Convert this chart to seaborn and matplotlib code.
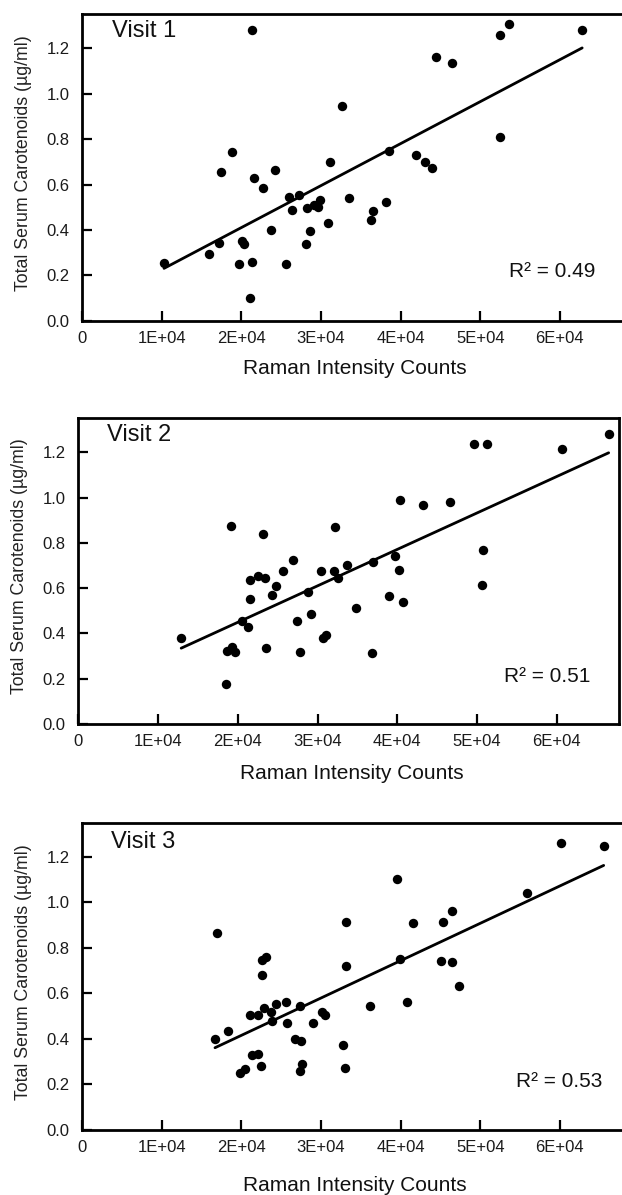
import matplotlib
matplotlib.use("Agg")
import matplotlib.pyplot as plt
import seaborn as sns
import numpy as np

# Visit 1
visit1_raman = [10300, 15900, 17200, 17500, 18800, 19700, 20100, 20300, 21100, 21400,
                21400, 21600, 22700, 23700, 24200, 25600, 26000, 26400, 27200, 28100,
                28200, 28600, 29100, 29600, 29900, 30900, 31200, 32700, 33500, 36300,
                36600, 38200, 38600, 41900, 43100, 44000, 44400, 46400, 52500, 52500,
                53600, 62800]
visit1_serum = [0.255, 0.296, 0.344, 0.654, 0.742, 0.252, 0.351, 0.337, 0.103, 1.279,
                0.259, 0.629, 0.584, 0.398, 0.666, 0.252, 0.544, 0.486, 0.555, 0.340,
                0.495, 0.395, 0.512, 0.500, 0.530, 0.432, 0.701, 0.946, 0.539, 0.442,
                0.483, 0.524, 0.746, 0.732, 0.698, 0.672, 1.163, 1.133, 1.256, 0.808,
                1.308, 1.279]

# Visit 2
visit2_raman = [12900, 18500, 18700, 19200, 19300, 19700, 20500, 21300, 21500, 21500,
                22500, 23100, 23400, 23500, 24300, 24800, 25700, 26900, 27400, 27800,
                28800, 29200, 30400, 30700, 31000, 32100, 32200, 32600, 33700, 34800,
                36800, 37000, 38900, 39700, 40200, 40300, 40700, 43200, 46600, 49600,
                50600, 50800, 51200, 60700, 66500]
visit2_serum = [0.379, 0.177, 0.324, 0.876, 0.342, 0.320, 0.453, 0.428, 0.552, 0.634,
                0.655, 0.839, 0.645, 0.338, 0.571, 0.608, 0.678, 0.726, 0.453, 0.320,
                0.582, 0.487, 0.678, 0.379, 0.394, 0.674, 0.869, 0.645, 0.704, 0.512,
                0.313, 0.716, 0.566, 0.740, 0.681, 0.991, 0.541, 0.968, 0.979, 1.238,
                0.615, 0.767, 1.238, 1.215, 1.279]

# Visit 3
visit3_raman = [16700, 17000, 18300, 19800, 20500, 21100, 21300, 22100, 22100, 22500,
                22600, 22600, 22800, 23100, 23700, 23800, 24300, 25600, 25700, 26700,
                27400, 27400, 27500, 27600, 29000, 30100, 30500, 32800, 33000, 33200,
                33200, 36200, 39500, 39900, 40800, 41500, 45100, 45300, 46400, 46500,
                47300, 55900, 60100, 65500]
visit3_serum = [0.400, 0.864, 0.433, 0.252, 0.267, 0.506, 0.330, 0.506, 0.334, 0.282,
                0.679, 0.748, 0.535, 0.758, 0.520, 0.477, 0.554, 0.564, 0.472, 0.400,
                0.546, 0.260, 0.392, 0.292, 0.468, 0.520, 0.506, 0.374, 0.274, 0.912,
                0.719, 0.546, 1.104, 0.751, 0.564, 0.909, 0.741, 0.912, 0.737, 0.961,
                0.631, 1.041, 1.261, 1.249]

visit_names = ["Visit 1", "Visit 2", "Visit 3"]
r2_labels = ["R\u00b2 = 0.49", "R\u00b2 = 0.51", "R\u00b2 = 0.53"]
x_ticks = [0, 10000, 20000, 30000, 40000, 50000, 60000]
x_ticklabels = ["0", "1E+04", "2E+04", "3E+04", "4E+04", "5E+04", "6E+04"]
y_ticks = [0.0, 0.2, 0.4, 0.6, 0.8, 1.0, 1.2]
y_ticklabels = ["0.0", "0.2", "0.4", "0.6", "0.8", "1.0", "1.2"]

sns.set_style("ticks")
plt.rcParams["font.family"] = ["Liberation Sans", "DejaVu Sans"]

fig = plt.figure(figsize=(6.22, 11.95), dpi=100)

rects = [
    [0.1318, 0.7314, 0.8682, 0.2569],
    [0.1259, 0.3941, 0.8693, 0.2558],
    [0.1318, 0.0544, 0.8682, 0.2572],
]
xs = [visit1_raman, visit2_raman, visit3_raman]
ys = [visit1_serum, visit2_serum, visit3_serum]
visit_pos = [(3770, 1.248), (3560, 1.249), (3670, 1.239)]
r2_pos = [(64500, 0.192), (64200, 0.187), (65300, 0.190)]
xlabel_y = [-0.125, -0.13, -0.15]

for i in range(3):
    ax = fig.add_axes(rects[i])
    sns.regplot(
        x=np.array(xs[i]), y=np.array(ys[i]), ax=ax, ci=None, color="black",
        scatter_kws={"s": 46, "linewidths": 0, "alpha": 1},
        line_kws={"lw": 2.0},
    )
    ax.set_xlim(0, 67800)
    ax.set_ylim(0, 1.35)
    ax.set_xticks(x_ticks)
    ax.set_xticklabels(x_ticklabels)
    ax.set_yticks(y_ticks)
    ax.set_yticklabels(y_ticklabels)
    ax.tick_params(axis="both", direction="in", length=7, width=1.6,
                   labelsize=12, colors="black", labelcolor="#1a1a1a")
    ax.tick_params(axis="x", pad=7)
    ax.tick_params(axis="y", pad=9)
    for side in ["left", "bottom", "top", "right"]:
        ax.spines[side].set_linewidth(2.0)
        ax.spines[side].set_color("black")
    if i != 1:
        ax.spines["right"].set_visible(False)

    ax.set_xlabel("Raman Intensity Counts", fontsize=15, color="#111111")
    ax.xaxis.set_label_coords(0.505, xlabel_y[i])
    ax.set_ylabel("Total Serum Carotenoids (\u00b5g/ml)", fontsize=12.8, color="#222222")
    ax.yaxis.set_label_coords(-0.093, 0.515)

    ax.text(visit_pos[i][0], visit_pos[i][1], visit_names[i], fontsize=17,
            ha="left", va="baseline", color="#111111")
    ax.text(r2_pos[i][0], r2_pos[i][1], r2_labels[i], fontsize=15,
            ha="right", va="baseline", color="#111111")

fig.savefig("out.png", dpi=100)
